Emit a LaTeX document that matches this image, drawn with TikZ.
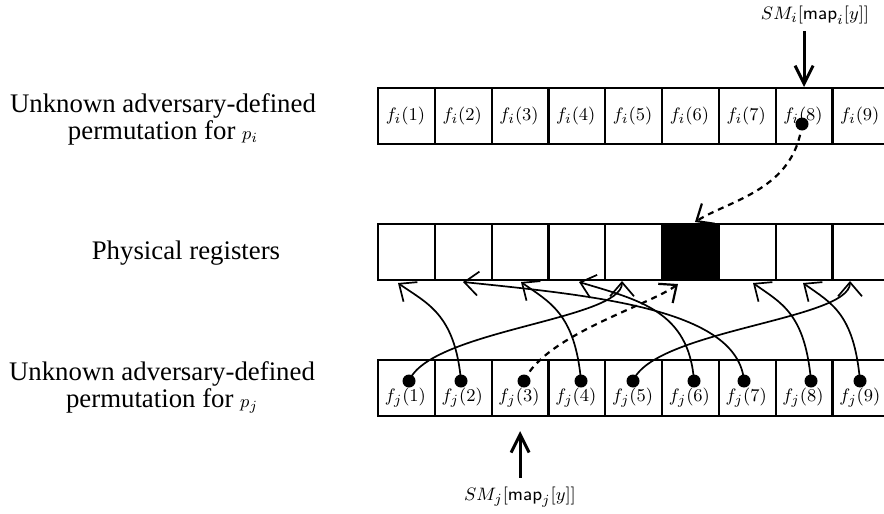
\documentclass[tikz,border=0pt]{standalone}
\usepackage{fontspec}
\setmainfont{Liberation Serif}
\usetikzlibrary{arrows.meta}
\newcommand\cellmath{\fontsize{9.3}{10}\selectfont}
\newcommand\labelfont{\fontsize{13.4}{13.5}\selectfont}

\begin{document}
\begin{tikzpicture}[x=0.5pt,y=-0.5pt,
  cellbox/.style={draw, line width=1.1pt, minimum width=28.4pt, minimum height=28pt,
                  inner sep=0pt, anchor=north west},
  dotn/.style={circle, fill=black, inner sep=0pt, minimum size=6.5pt},
  conn/.style={line width=0.85pt, -{Straight Barb[length=7pt,width=12pt]}},
  dconn/.style={line width=1.1pt, dash pattern=on 3pt off 2.5pt,
                -{Straight Barb[length=7pt,width=12pt]}},
  bigarrow/.style={line width=1.5pt, -{Straight Barb[length=9pt,width=9pt]}},
  lbl/.style={font=\labelfont, align=center}]

\useasboundingbox (0,0) rectangle (884,514);

% three rows of nine registers
\foreach \k in {1,...,9}{
  \node[cellbox] (a\k) at ({377+(\k-1)*56.8},87) {};
  \node[cellbox] (b\k) at ({377+(\k-1)*56.8},223) {};
  \node[cellbox] (c\k) at ({377+(\k-1)*56.8},359) {};
  \node[font=\cellmath] (ta\k) at ({377+(\k-0.5)*56.8},116) {$f_i(\k)$};
  \node[font=\cellmath] (tc\k) at ({377+(\k-0.5)*56.8},398) {$f_j(\k)$};
}
\fill[black] (b6.north west) rectangle (b6.south east);

% row labels
\node[lbl] (lp) at (163,119) {Unknown adversary-defined\\permutation for {\cellmath$p_i$}};
\node[lbl] (lr) at (186,253) {Physical registers};
\node[lbl] (lq) at (162,387) {Unknown adversary-defined\\permutation for {\cellmath$p_j$}};

% dots marking the entries
\node[dotn] (e8) at (802,124) {};
\node[dotn] (d1) at (409,381) {};
\node[dotn] (d2) at (461,381) {};
\node[dotn] (d3) at (524,381) {};
\node[dotn] (d4) at (581,381) {};
\node[dotn] (d5) at (633,381) {};
\node[dotn] (d6) at (694,381) {};
\node[dotn] (d7) at (744,381) {};
\node[dotn] (d8) at (811,381) {};
\node[dotn] (d9) at (860,381) {};

% arrow ends below the physical registers
\coordinate (g1) at (398,283);
\coordinate (g2) at (463,282);
\coordinate (g3) at (521,282);
\coordinate (g4) at (579,282);
\coordinate (g5) at (622,281);
\coordinate (g6) at (678,284);
\coordinate (g7) at (753,283);
\coordinate (g8) at (803,283);
\coordinate (g9) at (850,281);
\coordinate (gt) at (695,222);

% mapping of p_j's entries onto the registers
\draw[conn] (d2.center) .. controls +(-6,-68) and +(28,20) .. (g1);
\draw[conn] (d4.center) .. controls +(-6,-68) and +(28,20) .. (g3);
\draw[conn] (d8.center) .. controls +(-6,-68) and +(28,20) .. (g7);
\draw[conn] (d9.center) .. controls +(-6,-68) and +(28,20) .. (g8);
\draw[conn] (d6.center) .. controls +(-5,-70) and +(60,18) .. (g4);
\draw[conn] (d7.center) .. controls +(-6,-71) and +(137,14) .. (g2);
\draw[conn] (d1.center) .. controls +(21,-51) and +(0,39) .. (g5);
\draw[conn] (d5.center) .. controls +(21,-51) and +(0,39) .. (g9);
\draw[dconn] (d3.center) .. controls +(21,-46) and +(-28,21) .. (g6);

% p_i's entry landing in the shared register
\draw[dconn] (e8.center) .. controls +(-8,66) and +(35,-22) .. (gt);

% accesses
\node[font=\cellmath] (smi) at (815,15) {$SM_i[\textsf{map}_i[y]]$};
\node[font=\cellmath] (smj) at (520,497) {$SM_j[\textsf{map}_j[y]]$};
\draw[bigarrow] (smi.south -| a8.north) -- (a8.north);
\draw[bigarrow, shorten <=1pt, shorten >=7pt] (smj.north -| c3.south) -- (c3.south);
\end{tikzpicture}
\end{document}
